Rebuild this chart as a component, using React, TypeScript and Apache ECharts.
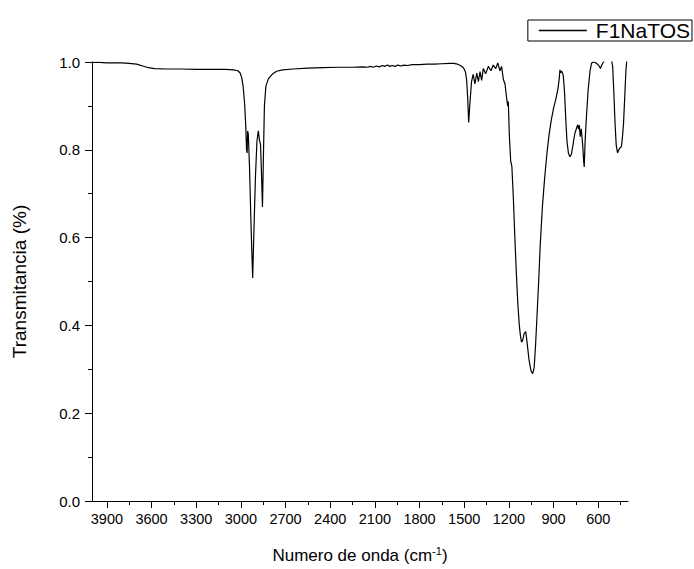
import React, { useEffect, useRef } from "react";
import * as echarts from "echarts";

const wavenumbers = [
  4000, 3950, 3900, 3850, 3800, 3750, 3700, 3660, 3620, 3580, 3500, 3400, 3300, 3200, 3100, 3050, 3020, 3005,
  2995, 2985, 2975, 2968, 2962, 2958, 2955, 2950, 2942, 2932, 2921, 2912, 2902, 2892, 2883, 2875, 2868, 2862,
  2855, 2849, 2842, 2832, 2815, 2790, 2760, 2720, 2650, 2550, 2450, 2350, 2250, 2180, 2150, 2130, 2110, 2090,
  2070, 2050, 2035, 2015, 2000, 1985, 1965, 1945, 1925, 1905, 1880, 1850, 1800, 1750, 1700, 1650, 1600, 1570,
  1545, 1525, 1505, 1492, 1484, 1477, 1470, 1463, 1451, 1440, 1428, 1416, 1405, 1394, 1383, 1372, 1356, 1338,
  1320, 1305, 1288, 1275, 1260, 1249, 1237, 1226, 1215, 1208, 1204, 1197, 1188, 1180, 1170, 1160, 1150, 1140,
  1130, 1122, 1115, 1108, 1097, 1087, 1078, 1065, 1052, 1040, 1030, 1020, 1010, 1000, 990, 975, 960, 945,
  930, 915, 900, 885, 870, 862, 857, 852, 845, 835, 826, 818, 810, 800, 790, 780, 770, 758, 745, 738,
  732, 727, 721, 714, 704, 698, 694, 688, 680, 668, 655, 645, 635, 620, 605, 592, 585, 578, 565, 550,
  530, 512, 503, 495, 487, 479, 470, 462, 452, 444, 437, 430, 422, 414, 408, 400,
];

const transmittance = [
  0.999, 0.999, 0.998, 0.998, 0.998, 0.997, 0.995, 0.991, 0.987, 0.985, 0.984, 0.984, 0.983, 0.983, 0.983, 0.982, 0.98, 0.975,
  0.965, 0.945, 0.905, 0.86, 0.8, 0.793, 0.843, 0.835, 0.76, 0.63, 0.508, 0.62, 0.74, 0.82, 0.843, 0.822, 0.812, 0.75,
  0.67, 0.78, 0.9, 0.945, 0.962, 0.972, 0.979, 0.982, 0.984, 0.986, 0.987, 0.988, 0.988, 0.989, 0.988, 0.990, 0.988, 0.991,
  0.989, 0.992, 0.990, 0.993, 0.990, 0.992, 0.990, 0.993, 0.991, 0.993, 0.992, 0.994, 0.994, 0.995, 0.995, 0.996, 0.997, 0.997,
  0.995, 0.992, 0.987, 0.978, 0.96, 0.92, 0.862, 0.9, 0.955, 0.972, 0.95, 0.975, 0.955, 0.978, 0.958, 0.985, 0.973, 0.99,
  0.98, 0.993, 0.985, 0.998, 0.98, 0.99, 0.96, 0.95, 0.917, 0.9, 0.91, 0.833, 0.775, 0.762, 0.69, 0.6, 0.52, 0.45,
  0.4, 0.375, 0.362, 0.366, 0.382, 0.386, 0.362, 0.322, 0.297, 0.29, 0.305, 0.36, 0.43, 0.5, 0.58, 0.67, 0.735, 0.79,
  0.835, 0.868, 0.895, 0.915, 0.94, 0.962, 0.982, 0.976, 0.979, 0.97, 0.93, 0.87, 0.82, 0.792, 0.784, 0.79, 0.81, 0.836, 0.85, 0.857,
  0.847, 0.856, 0.83, 0.848, 0.81, 0.775, 0.761, 0.82, 0.87, 0.935, 0.98, 0.997, 1.0, 0.999, 0.995, 0.99, 0.985, 0.992, 1.0, 1.008,
  1.012, 1.006, 0.99, 0.93, 0.86, 0.81, 0.793, 0.8, 0.805, 0.807, 0.83, 0.86, 0.92, 0.98, 1.005, 1.02,
];

const xMajorTicks = [3900, 3600, 3300, 3000, 2700, 2400, 2100, 1800, 1500, 1200, 900, 600];
const xMinorTicks = [3750, 3450, 3150, 2850, 2550, 2250, 1950, 1650, 1350, 1050, 750, 450];
const seriesName = "F1NaTOS";

const FONT = "'Liberation Sans', Arial, sans-serif";

export default function App() {
  const ref = useRef<HTMLDivElement>(null);

  useEffect(() => {
    if (!ref.current) return;
    const chart = echarts.init(ref.current, undefined, { renderer: "svg" });
    const data = wavenumbers.map((w, i) => [w, transmittance[i]]);

    const baseX = {
      type: "value",
      min: 400,
      max: 4000,
      inverse: true,
      position: "bottom",
      splitLine: { show: false },
    };

    chart.setOption({
      animation: false,
      backgroundColor: "#fff",
      grid: { left: 92, top: 62, width: 536, height: 439, containLabel: false },
      legend: {
        right: 2,
        top: 20,
        data: [{ name: seriesName, icon: "rect" }],
        borderColor: "#000",
        borderWidth: 1,
        borderRadius: 0,
        padding: [0, 2, 0, 11],
        itemWidth: 48,
        itemHeight: 1.3,
        itemGap: 0,
        itemStyle: { color: "#000" },
        textStyle: { fontFamily: FONT, fontSize: 21, color: "#000", padding: [0, 0, 0, 4] },
      },
      xAxis: [
        {
          ...baseX,
          name: "Numero de onda (cm{sup|-1})",
          nameLocation: "middle",
          nameGap: 44,
          nameTextStyle: {
            fontFamily: FONT,
            fontSize: 17,
            color: "#000",
            rich: {
              sup: { fontFamily: FONT, fontSize: 11, color: "#000", verticalAlign: "top", padding: [0, 0, 9, 0] },
            },
          },
          axisLine: { show: true, lineStyle: { color: "#000", width: 1 } },
          axisTick: { show: true, length: 7, customValues: xMajorTicks, lineStyle: { color: "#000" } },
          axisLabel: {
            customValues: xMajorTicks,
            fontFamily: FONT,
            fontSize: 14.5,
            color: "#000",
            margin: 10,
            formatter: (v: number) => String(v),
          },
        },
        {
          ...baseX,
          axisLine: { show: false },
          axisTick: { show: true, length: 4, customValues: xMinorTicks, lineStyle: { color: "#000" } },
          axisLabel: { show: false, customValues: xMinorTicks },
        },
      ],
      yAxis: {
        type: "value",
        min: 0,
        max: 1,
        interval: 0.2,
        name: "Transmitancia (%)",
        nameLocation: "middle",
        nameGap: 63,
        nameTextStyle: { fontFamily: FONT, fontSize: 19, color: "#000" },
        axisLine: { show: true, lineStyle: { color: "#000", width: 1 } },
        axisTick: { show: true, length: 7, lineStyle: { color: "#000" } },
        minorTick: { show: true, splitNumber: 2, length: 4, lineStyle: { color: "#000" } },
        splitLine: { show: false },
        axisLabel: {
          fontFamily: FONT,
          fontSize: 15,
          color: "#000",
          margin: 12,
          formatter: (v: number) => v.toFixed(1),
        },
      },
      series: [
        {
          name: seriesName,
          type: "line",
          xAxisIndex: 0,
          data,
          symbol: "none",
          clip: true,
          lineStyle: { color: "#000", width: 1.2 },
          itemStyle: { color: "#000" },
        },
      ],
    });

    return () => chart.dispose();
  }, []);

  return (
    <div
      ref={ref}
      style={{ position: "fixed", left: 0, top: 0, width: 694, height: 569, background: "#fff" }}
    />
  );
}
